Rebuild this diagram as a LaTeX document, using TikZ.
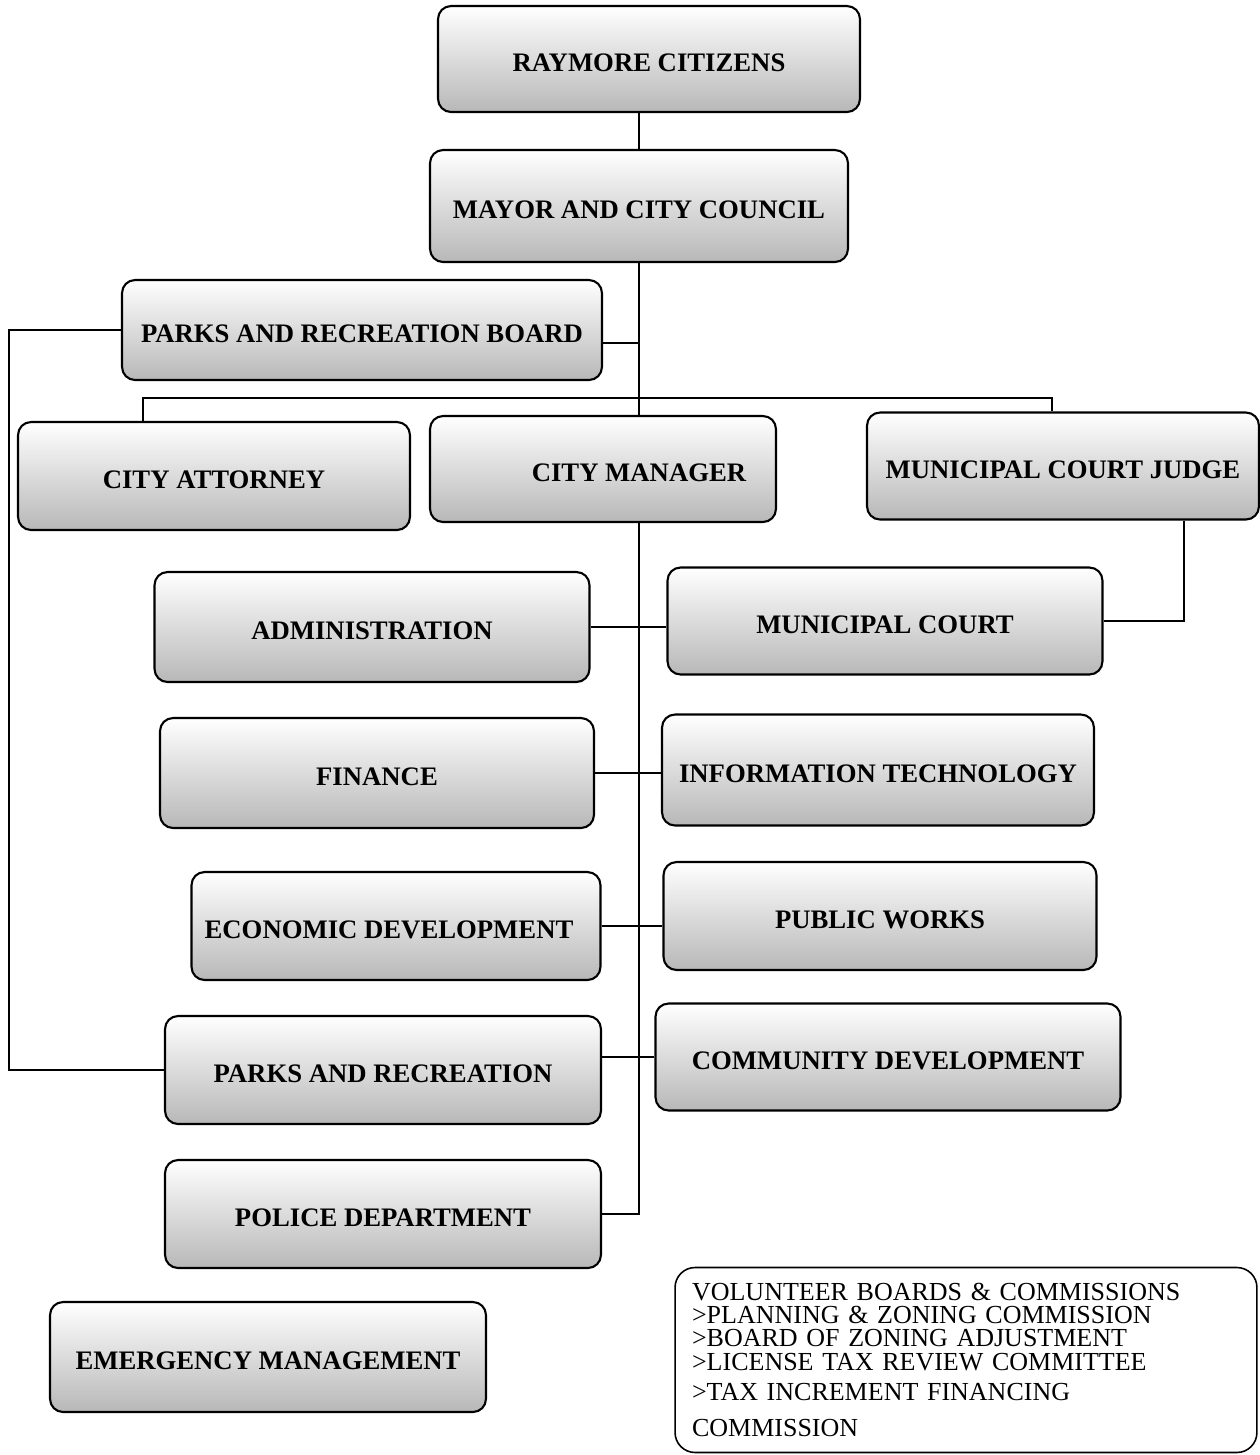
\documentclass[tikz,border=0pt]{standalone}
\usepackage{fontspec}
\setmainfont{Liberation Serif}
\tikzset{
  unitbox/.style={
    draw, rectangle, rounded corners=0.26cm, line width=1.2pt,
    top color=white, bottom color=black!28,
    minimum width=8.7cm, minimum height=2.16cm, inner sep=2pt,
    text height=14pt, text depth=0pt,
    font=\fontsize{15.2}{17}\selectfont\bfseries
  },
  notebox/.style={
    draw, rectangle, rounded corners=0.4cm, line width=0.9pt, fill=white,
    inner xsep=0.34cm, text width=10.96cm, align=left,
    minimum height=3.7cm,
    font=\fontsize{14.8}{13.3}\selectfont
  },
  link/.style={
    draw, line width=1pt
  }
}
\begin{document}
\begin{tikzpicture}[x=0.02cm, y=-0.02cm]
    \useasboundingbox[fill=white] (0,0) rectangle (1260,1455);

    % top of the chart
    \node[unitbox, minimum width=8.44cm, minimum height=2.12cm] (citizens) at (649,59) {RAYMORE CITIZENS};
    \node[unitbox, minimum width=8.36cm, minimum height=2.24cm] (mayor) at (639,206) {MAYOR AND CITY COUNCIL};
    \node[unitbox, minimum width=9.6cm, minimum height=2.0cm] (board) at (362,330) {PARKS AND RECREATION BOARD};

    % appointed by council
    \node[unitbox, minimum width=7.84cm] (attorney) at (214,476) {CITY ATTORNEY};
    \node[unitbox, minimum width=6.92cm, minimum height=2.12cm] (manager) at (603,469) {\hspace*{1.44cm}CITY MANAGER};
    \node[unitbox, minimum width=7.84cm, minimum height=2.14cm] (judge) at (1063,466) {MUNICIPAL COURT JUDGE};

    % departments
    \node[unitbox, minimum height=2.2cm] (admin) at (372,627) {ADMINISTRATION};
    \node[unitbox, minimum height=2.14cm] (court) at (885,621) {MUNICIPAL COURT};
    \node[unitbox, minimum width=8.68cm, minimum height=2.2cm] (finance) at (377,773) {FINANCE};
    \node[unitbox, minimum width=8.64cm, minimum height=2.22cm] (infotech) at (878,770) {INFORMATION TECHNOLOGY};
    \node[unitbox, minimum width=8.18cm] (econdev) at (396,926) {ECONOMIC DEVELOPMENT\hspace*{0.28cm}};
    \node[unitbox, minimum width=8.66cm] (works) at (880,916) {PUBLIC WORKS};
    \node[unitbox, minimum width=8.72cm] (parks) at (383,1070) {PARKS AND RECREATION};
    \node[unitbox, minimum width=9.3cm, minimum height=2.14cm] (commdev) at (888,1057) {COMMUNITY DEVELOPMENT};
    \node[unitbox, minimum width=8.72cm] (police) at (383,1214) {POLICE DEPARTMENT};
    \node[unitbox, minimum width=8.72cm, minimum height=2.2cm] (emergency) at (268,1357) {EMERGENCY MANAGEMENT};

    \node[notebox, minimum width=11.64cm] (boards) at (966,1360) {VOLUNTEER BOARDS \& COMMISSIONS\\
      >PLANNING \& ZONING COMMISSION\\
      >BOARD OF ZONING ADJUSTMENT\\
      >LICENSE TAX REVIEW COMMITTEE\\[0.13cm]
      >TAX INCREMENT FINANCING\\[0.27cm]
      COMMISSION};

    % connectors
    \coordinate (bar) at (639,398);
    \draw[link] (mayor.north) -- (mayor.north |- citizens.south);
    \draw[link] (mayor.south) -- (mayor.south |- manager.north);
    \draw[link] ([yshift=-0.26cm]board.east) -- ([yshift=-0.26cm]board.east -| mayor.south);
    \draw[link] ([xshift=-1.42cm]attorney.north) |- (bar) -| ([xshift=-0.22cm]judge.north);
    \draw[link] (board.west) -- ++(-112,0) |- (parks.west);
    \draw[link] (mayor.south |- manager.south) -- (mayor.south |- police.east) -- (police.east);
    \draw[link] (admin.east) -- (admin.east -| court.west);
    \draw[link] (finance.east) -- (finance.east -| infotech.west);
    \draw[link] (econdev.east) -- (econdev.east -| works.west);
    \draw[link] (commdev.west -| parks.east) -- (commdev.west);
    \draw[link] ([xshift=2.42cm]judge.south) |- (court.east);
  \end{tikzpicture}
\end{document}
